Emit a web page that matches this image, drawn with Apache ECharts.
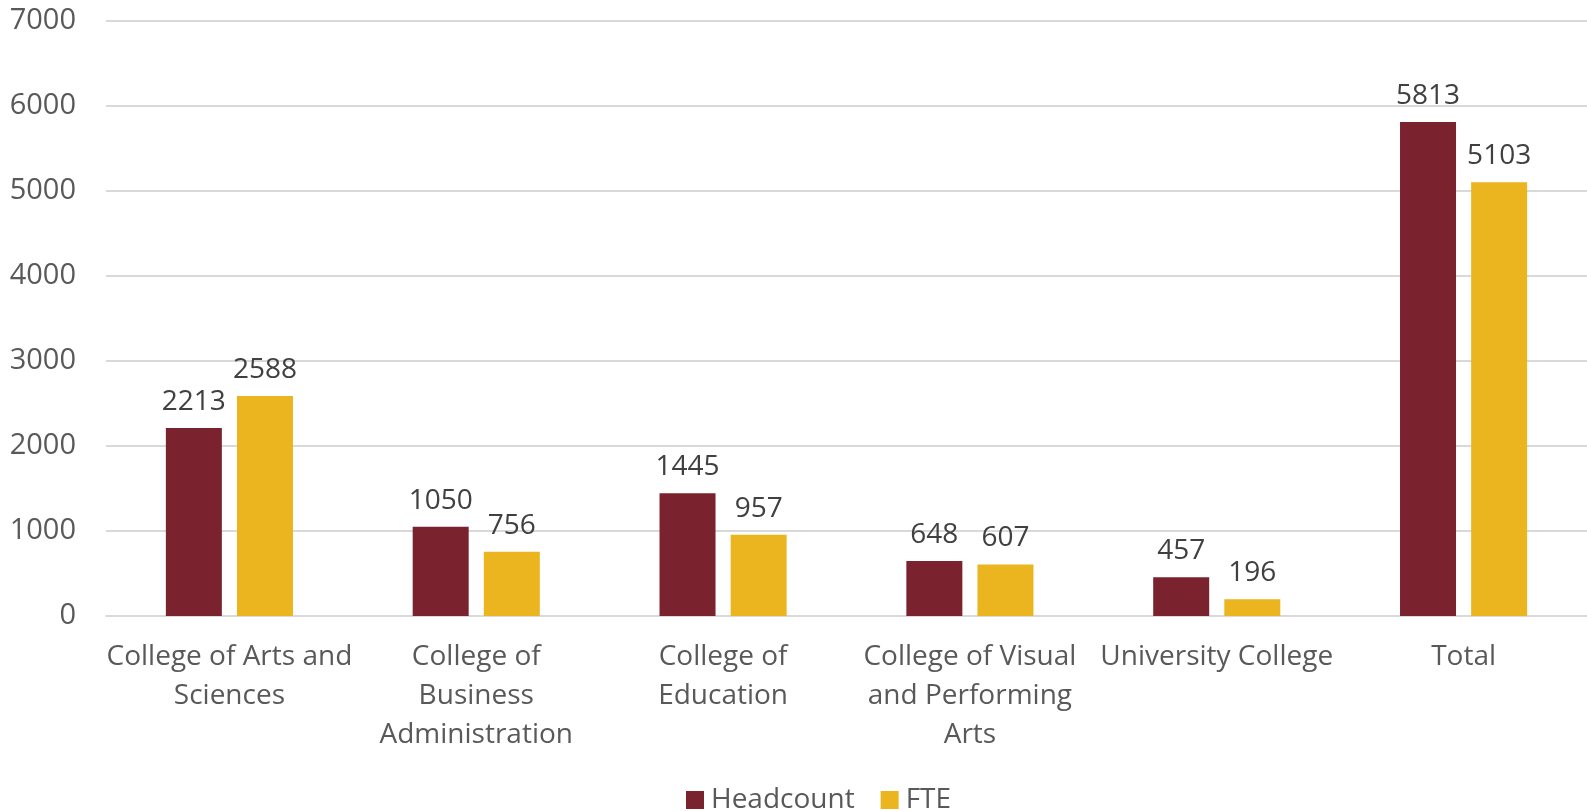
<!DOCTYPE html>
<html><head><meta charset="utf-8">
<script src="https://cdn.jsdelivr.net/npm/echarts@6/dist/echarts.min.js"></script>
<style>html,body{margin:0;padding:0;background:#fff}#c{width:1587px;height:811px}</style>
</head><body><div id="c"></div>
<script>
const categories = ["College of Arts and\nSciences", "College of\nBusiness\nAdministration", "College of\nEducation", "College of Visual\nand Performing\nArts", "University College", "Total"];
const headcount = [2213, 1050, 1445, 648, 457, 5813];
const fte = [2588, 756, 957, 607, 196, 5103];
const seriesNames = ["Headcount", "FTE"];
const font = "'Open Sans', 'Liberation Sans', sans-serif";
const chart = echarts.init(document.getElementById('c'));
chart.setOption({
  animation: false,
  textStyle: { fontFamily: font },
  legend: {
    bottom: -8, left: 681, itemWidth: 18, itemHeight: 18, itemGap: 26,
    icon: 'rect',
    textStyle: { fontSize: 28, color: '#595959', fontFamily: font, padding: [0, 0, 0, 2] },
    data: seriesNames
  },
  grid: { left: 106, right: -2, top: 21, bottom: 195, containLabel: false },
  xAxis: {
    type: 'category', data: categories,
    axisLine: { lineStyle: { color: '#d9d9d9', width: 2 } },
    axisTick: { show: false },
    axisLabel: { fontSize: 28, color: '#595959', lineHeight: 39, margin: 22, interval: 0, fontFamily: font }
  },
  yAxis: {
    type: 'value', min: 0, max: 7000, interval: 1000,
    axisLine: { show: false }, axisTick: { show: false },
    splitLine: { lineStyle: { color: '#d9d9d9', width: 2 } },
    axisLabel: { fontSize: 29, color: '#595959', margin: 30, fontFamily: font, formatter: v => String(v) }
  },
  series: [
    { name: seriesNames[0], type: 'bar', data: headcount, barWidth: 56, barGap: '27%',
      itemStyle: { color: '#7a222e' },
      label: { show: true, position: 'top', fontSize: 28, color: '#404040', distance: 12, fontFamily: font } },
    { name: seriesNames[1], type: 'bar', data: fte, barWidth: 56,
      itemStyle: { color: '#ebb51f' },
      label: { show: true, position: 'top', fontSize: 28, color: '#404040', distance: 12, fontFamily: font } }
  ]
});
</script></body></html>
